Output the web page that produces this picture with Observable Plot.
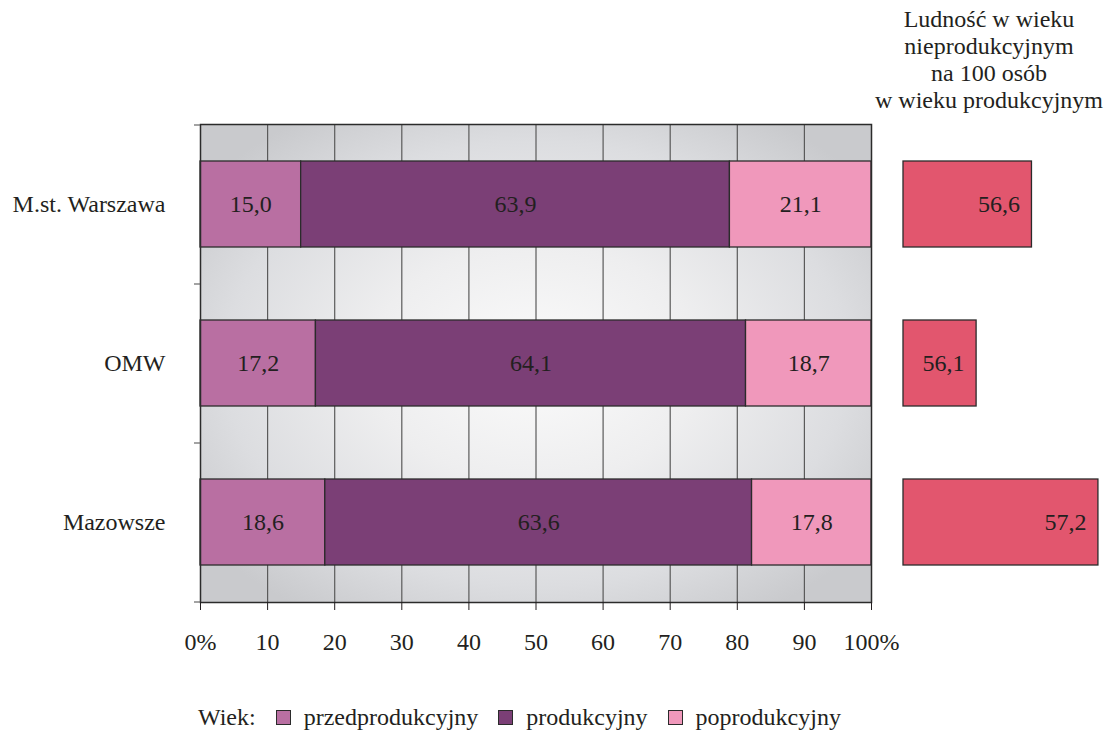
<!DOCTYPE html>
<html>
<head>
<meta charset="utf-8">
<script src="https://cdn.jsdelivr.net/npm/d3@7"></script>
<script src="https://cdn.jsdelivr.net/npm/@observablehq/plot@0.6"></script>
<style>
  html, body { margin: 0; padding: 0; background: #fff; }
  #wrap { position: relative; width: 1109px; height: 731px; overflow: hidden;
          font-family: "Liberation Serif", "Tinos", "Times New Roman", serif; color: #231f20; }
  #main { position: absolute; left: 0; top: 0; }
  #side { position: absolute; left: 890px; top: 0; }
  #title { position: absolute; left: 858px; width: 262px; top: 6px; text-align: center;
           font-size: 24px; line-height: 27px; white-space: nowrap; }
  #legend { position: absolute; left: 198px; top: 702px; font-size: 24px; line-height: 30px; display: flex;
            align-items: center; white-space: nowrap; }
  #legend .sw { display: inline-block; width: 13px; height: 13px; border: 1px solid #2b2b2b;
                margin: 0 13px 0 0; }
  #legend .item { display: flex; align-items: center; margin-right: 20px; }
</style>
</head>
<body>
<div id="wrap">
  <div id="main"></div>
  <div id="side"></div>
  <div id="title">Ludność w wieku<br>nieprodukcyjnym<br>na 100 osób<br>w wieku produkcyjnym</div>
  <div id="legend"></div>
</div>
<script>
// ---- data ----
const regions = ["M.st. Warszawa", "OMW", "Mazowsze"];
const ageGroups = ["przedprodukcyjny", "produkcyjny", "poprodukcyjny"];
const przedprodukcyjny = [15.0, 17.2, 18.6];
const produkcyjny = [63.9, 64.1, 63.6];
const poprodukcyjny = [21.1, 18.7, 17.8];
const dependencyRatio = [56.6, 56.1, 57.2];
const xTicks = [0, 10, 20, 30, 40, 50, 60, 70, 80, 90, 100];
const legendLabel = "Wiek:";

// ---- styles ----
const ageColors = ["#b96fa2", "#7b3f76", "#f098bb"];
const ratioColor = "#e2566e";
const ink = "#231f20";
const FONT = "'Liberation Serif', Tinos, 'Times New Roman', serif";
const FS = 24;
const fmt = d => d.toFixed(1).replace(".", ",");

const series = [przedprodukcyjny, produkcyjny, poprodukcyjny];
const rows = [];
regions.forEach((r, i) => ageGroups.forEach((a, j) => rows.push({region: r, age: a, value: series[j][i]})));
const ratioRows = regions.map((r, i) => ({region: r, value: dependencyRatio[i]}));

const yOpts = {domain: regions, paddingInner: 0.46, paddingOuter: 0.23};
const common = {height: 670, marginTop: 124, marginBottom: 68,
  style: {fontFamily: FONT, fontSize: FS + "px", color: ink, background: "transparent", overflow: "visible"}};

function buildMain(halfStep) {
  return Plot.plot({
    ...common,
    width: 890, marginLeft: 200, marginRight: 19,
    x: {domain: [0, 100]},
    y: yOpts,
    color: {domain: ageGroups, range: ageColors},
    marks: [
      Plot.frame({fill: "url(#bgGrad)", stroke: "none"}),
      Plot.ruleX(xTicks.slice(1, -1), {stroke: "#5a5a5a", strokeWidth: 1.2}),
      Plot.barX(rows, {x: "value", y: "region", fill: "age", stroke: "#2b2b2b", strokeWidth: 1.3}),
      Plot.textX(rows, Plot.stackX({x: "value", y: "region", text: d => fmt(d.value), fill: ink, fontSize: FS})),
      Plot.frame({stroke: "#2b2b2b", strokeWidth: 1.5}),
      // small boundary ticks on the category axis
      Plot.ruleY(regions, {y: d => d, dy: -halfStep, x1: -0.9, x2: 0, stroke: "#666", strokeWidth: 1.2}),
      Plot.ruleY(regions.slice(-1), {y: d => d, dy: halfStep, x1: -0.9, x2: 0, stroke: "#666", strokeWidth: 1.2}),
      Plot.axisY({tickSize: 0, tickPadding: 35, fontSize: FS, label: null}),
      Plot.axisX({ticks: xTicks, tickSize: 8, tickPadding: 22, fontSize: FS, label: null,
        tickFormat: d => d === 0 || d === 100 ? d + "%" : String(d)})
    ]
  });
}
const probe = buildMain(0);
const main = buildMain(probe.scale("y").step / 2);

// gradient definition for the background
const defs = d3.select(main).insert("defs", ":first-child");
const g = defs.append("radialGradient").attr("id", "bgGrad").attr("cx", "50%").attr("cy", "50%").attr("r", "62%");
[["0", "#fbfbfb"], ["0.4", "#eeeeef"], ["0.75", "#dcdde0"], ["1", "#c9cacd"]]
  .forEach(([o, c]) => g.append("stop").attr("offset", o).attr("stop-color", c));
document.getElementById("main").appendChild(main);

const ratioDomain = [55.44, 57.3];
const side = Plot.plot({
  ...common,
  width: 219, marginLeft: 13, marginRight: 0,
  x: {domain: ratioDomain, axis: null},
  y: {...yOpts, axis: null},
  marks: [
    Plot.barX(ratioRows, {x1: () => ratioDomain[0], x2: "value", y: "region", fill: ratioColor, stroke: "#2b2b2b", strokeWidth: 1.3}),
    Plot.text(ratioRows, {x: "value", y: "region", text: d => fmt(d.value), textAnchor: "end", dx: -12, fill: ink, fontSize: FS})
  ]
});
document.getElementById("side").appendChild(side);

// legend
const lg = document.getElementById("legend");
const lab = document.createElement("span");
lab.textContent = legendLabel; lab.style.marginRight = "20px";
lg.appendChild(lab);
ageGroups.forEach((a, i) => {
  const it = document.createElement("span"); it.className = "item";
  const sw = document.createElement("span"); sw.className = "sw"; sw.style.background = ageColors[i];
  const t = document.createElement("span"); t.textContent = a;
  it.appendChild(sw); it.appendChild(t); lg.appendChild(it);
});
</script>
</body>
</html>
